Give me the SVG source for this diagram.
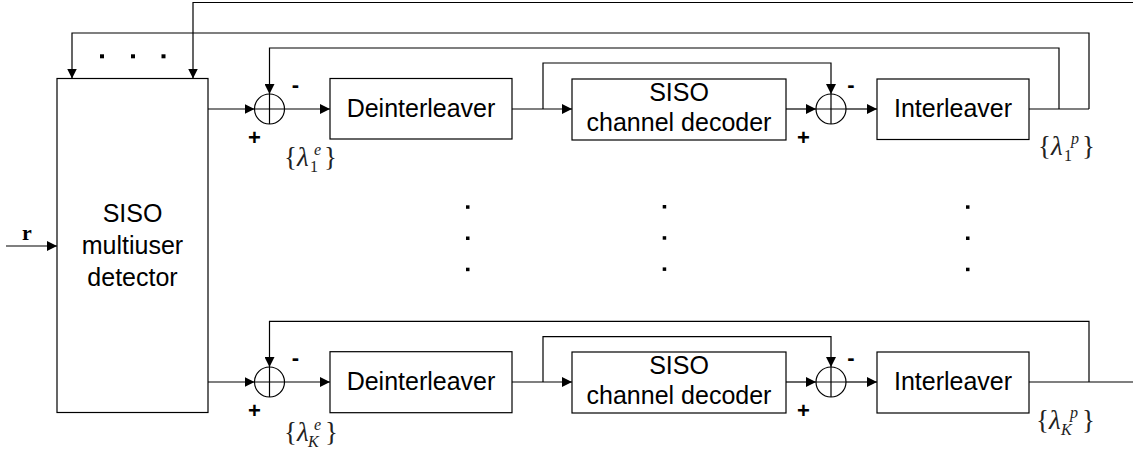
<svg xmlns="http://www.w3.org/2000/svg" width="1133" height="454" viewBox="0 0 1133 454">
  <style>
    .box { fill: #fff; stroke: #000; stroke-width: 1.2; }
    .sum { fill: #fff; stroke: #000; stroke-width: 1.2; }
    .wire { fill: none; stroke: #000; stroke-width: 1.2; }
    .arrow { fill: none; stroke: #000; stroke-width: 1.2; marker-end: url(#ah); }
    .lbl { font-family: "Liberation Sans", Arial, sans-serif; font-size: 25px; fill: #000; text-anchor: middle; }
    .sign { font-family: "Liberation Sans", Arial, sans-serif; font-size: 22px; font-weight: bold; fill: #000; text-anchor: middle; }
    .math { font-family: "Liberation Serif", "Times New Roman", serif; font-size: 27px; fill: #222; }
    .it { font-style: italic; }
    .sm { font-size: 16px; }
    .dot { fill: #000; }
  </style>
  <defs>
    <marker id="ah" viewBox="0 0 10 10" refX="10" refY="5" markerWidth="10" markerHeight="10" markerUnits="userSpaceOnUse" orient="auto">
      <path d="M0,0 L10,5 L0,10 z" fill="#000"/>
    </marker>
  </defs>

  <!-- connectors -->
  <g id="connectors">
    <!-- input r -->
    <line class="arrow" x1="6" y1="246" x2="57" y2="246"/>
    <!-- global feedback into the detector -->
    <polyline class="arrow" points="1133,2.5 193,2.5 193,78.5"/>
    <polyline class="arrow" points="1089,109 1089,33 72,33 72,78.5"/>
    <!-- user 1 path -->
    <line class="arrow" x1="208" y1="109" x2="254.5" y2="109"/>
    <line class="arrow" x1="284.5" y1="109" x2="330" y2="109"/>
    <line class="arrow" x1="512" y1="109" x2="572" y2="109"/>
    <polyline class="arrow" points="543,109 543,63 831,63 831,94"/>
    <line class="arrow" x1="786" y1="109" x2="816" y2="109"/>
    <line class="arrow" x1="846" y1="109" x2="877" y2="109"/>
    <line class="wire" x1="1029" y1="109" x2="1089" y2="109"/>
    <polyline class="arrow" points="1059,109 1059,48 269.5,48 269.5,94"/>
    <!-- user K path -->
    <line class="arrow" x1="208" y1="382" x2="254.5" y2="382"/>
    <line class="arrow" x1="284.5" y1="382" x2="330" y2="382"/>
    <line class="arrow" x1="512" y1="382" x2="572" y2="382"/>
    <polyline class="arrow" points="543,382 543,336.7 831,336.7 831,367"/>
    <line class="arrow" x1="786" y1="382" x2="816" y2="382"/>
    <line class="arrow" x1="846" y1="382" x2="877" y2="382"/>
    <line class="wire" x1="1029" y1="382" x2="1133" y2="382"/>
    <polyline class="arrow" points="1089,382 1089,321.3 269.5,321.3 269.5,367"/>
  </g>

  <!-- input label -->
  <text x="27" y="240" font-family="Liberation Serif, Times New Roman, serif" font-size="22" font-weight="bold" text-anchor="middle">r</text>

  <!-- detector -->
  <g id="detector">
    <rect class="box" x="57" y="78.5" width="151" height="334"/>
    <text class="lbl" x="132.5" y="222">SISO</text>
    <text class="lbl" x="132.5" y="254">multiuser</text>
    <text class="lbl" x="132.5" y="286">detector</text>
  </g>

  <!-- dots between the feedback inputs -->
  <g id="dots">
    <rect class="dot" x="100" y="54.3" width="4" height="4"/>
    <rect class="dot" x="131" y="54.3" width="4" height="4"/>
    <rect class="dot" x="161.5" y="54.3" width="4" height="4"/>
    <rect class="dot" x="466" y="205.3" width="3.5" height="3.5"/>
    <rect class="dot" x="466" y="236.5" width="3.5" height="3.5"/>
    <rect class="dot" x="466" y="267.7" width="3.5" height="3.5"/>
    <rect class="dot" x="662.7" y="205" width="3.5" height="3.5"/>
    <rect class="dot" x="662.7" y="236.2" width="3.5" height="3.5"/>
    <rect class="dot" x="662.7" y="267.4" width="3.5" height="3.5"/>
    <rect class="dot" x="966" y="205.3" width="3.5" height="3.5"/>
    <rect class="dot" x="966" y="236.5" width="3.5" height="3.5"/>
    <rect class="dot" x="966" y="267.7" width="3.5" height="3.5"/>
  </g>

  <!-- user 1 chain -->
  <g id="sum1a">
    <circle class="sum" cx="269.5" cy="109" r="15"/>
    <path class="wire" d="M254.5,109 H284.5 M269.5,94 V124"/>
    <text class="sign" x="295.5" y="92">-</text>
    <text class="sign" x="254.5" y="145">+</text>
  </g>
  <g id="deint1">
    <rect class="box" x="330" y="78.5" width="182" height="60.5"/>
    <text class="lbl" x="421" y="116.5">Deinterleaver</text>
  </g>
  <g id="dec1">
    <rect class="box" x="572" y="79" width="214" height="61"/>
    <text class="lbl" x="679" y="101">SISO</text>
    <text class="lbl" x="679" y="131">channel decoder</text>
  </g>
  <g id="sum1b">
    <circle class="sum" cx="831" cy="109" r="15"/>
    <path class="wire" d="M816,109 H846 M831,94 V124"/>
    <text class="sign" x="851" y="92">-</text>
    <text class="sign" x="803.5" y="145">+</text>
  </g>
  <g id="int1">
    <rect class="box" x="877" y="79" width="152" height="60.5"/>
    <text class="lbl" x="953" y="117">Interleaver</text>
  </g>
  <text class="math" x="284" y="166">{<tspan class="it" x="297">λ</tspan><tspan class="sm" x="310" y="172">1</tspan><tspan class="sm it" x="314" y="155">e</tspan><tspan x="324" y="166">}</tspan></text>
  <text class="math" x="1038" y="155">{<tspan class="it" x="1051">λ</tspan><tspan class="sm" x="1064" y="161">1</tspan><tspan class="sm it" x="1071" y="144">p</tspan><tspan x="1082" y="155">}</tspan></text>

  <!-- user K chain -->
  <g id="sumKa">
    <circle class="sum" cx="269.5" cy="382" r="15"/>
    <path class="wire" d="M254.5,382 H284.5 M269.5,367 V397"/>
    <text class="sign" x="295.5" y="365">-</text>
    <text class="sign" x="254.5" y="418">+</text>
  </g>
  <g id="deintK">
    <rect class="box" x="330" y="351.7" width="182" height="61"/>
    <text class="lbl" x="421" y="389.5">Deinterleaver</text>
  </g>
  <g id="decK">
    <rect class="box" x="572" y="352" width="214" height="61"/>
    <text class="lbl" x="679" y="374">SISO</text>
    <text class="lbl" x="679" y="404">channel decoder</text>
  </g>
  <g id="sumKb">
    <circle class="sum" cx="831" cy="382" r="15"/>
    <path class="wire" d="M816,382 H846 M831,367 V397"/>
    <text class="sign" x="851" y="365">-</text>
    <text class="sign" x="803.5" y="418">+</text>
  </g>
  <g id="intK">
    <rect class="box" x="877" y="352" width="152" height="61"/>
    <text class="lbl" x="953" y="390">Interleaver</text>
  </g>
  <text class="math" x="284" y="441">{<tspan class="it" x="297">λ</tspan><tspan class="sm it" x="308" y="447">K</tspan><tspan class="sm it" x="314" y="430">e</tspan><tspan x="325" y="441">}</tspan></text>
  <text class="math" x="1036" y="429">{<tspan class="it" x="1049">λ</tspan><tspan class="sm it" x="1061" y="435">K</tspan><tspan class="sm it" x="1070" y="418">p</tspan><tspan x="1082" y="429">}</tspan></text>
</svg>
